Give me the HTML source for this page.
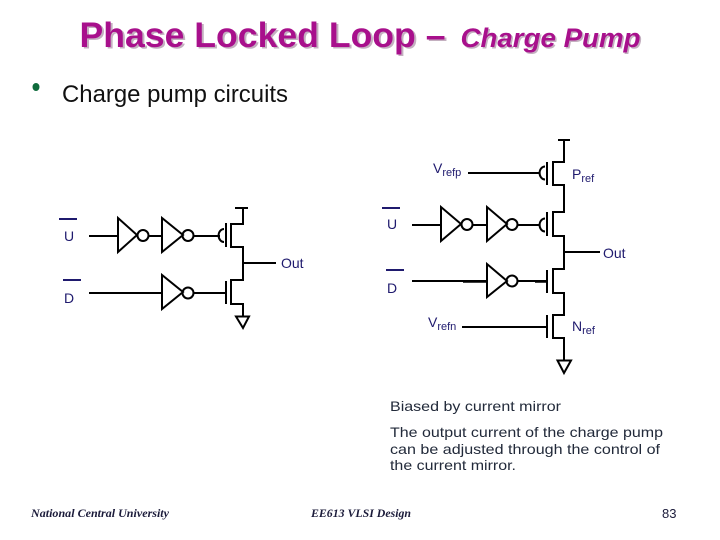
<!DOCTYPE html>
<html><head><meta charset="utf-8"><style>
html,body{margin:0;padding:0;background:#fff}
svg{display:block}
text{font-family:"Liberation Sans",sans-serif}
.c{fill:none;stroke:#000;stroke-width:2}
.l{fill:#1f1a6e;font-size:14px}
.s{font-size:11px}
.b{fill:#222a3a;font-size:14px}
</style></head><body>
<svg width="720" height="540" viewBox="0 0 720 540" xmlns="http://www.w3.org/2000/svg">
<rect width="720" height="540" fill="#fff"/>
<g font-weight="bold">
<text x="81.500" y="48.500" font-size="35" fill="#c4b0c0" textLength="366" lengthAdjust="spacingAndGlyphs">Phase Locked Loop –</text>
<text x="462" y="48.500" font-size="27" font-style="italic" fill="#c4b0c0" textLength="180" lengthAdjust="spacingAndGlyphs">Charge Pump</text>
<text x="79.500" y="47" font-size="35" fill="#a8108c" textLength="366" lengthAdjust="spacingAndGlyphs">Phase Locked Loop –</text>
<text x="460.500" y="47" font-size="27" font-style="italic" fill="#a8108c" textLength="180" lengthAdjust="spacingAndGlyphs">Charge Pump</text>
</g>
<ellipse cx="36" cy="87" rx="3.500" ry="4" fill="#0f6b3c"/>
<text x="62" y="102" font-size="24" fill="#111" textLength="226" lengthAdjust="spacingAndGlyphs">Charge pump circuits</text>

<!-- left circuit -->
<g class="c">
<path d="M89 236H118M118 218V252L137 235Z"/><circle cx="143" cy="235.500" r="5.500"/>
<path d="M149 236H162M162 218V252L183 235Z"/><circle cx="188" cy="235.500" r="5.500"/>
<path d="M194 236H220"/><path d="M224 229A5 6 0 0 0 224 242"/>
<path d="M226 223V247M235 208H248M243 208V224H231V247H243V280H231V304H243V316M243 263H276"/>
<path d="M89 293H162M162 275V309L183 292Z"/><circle cx="188" cy="293" r="5.500"/>
<path d="M194 293H226M226 281V304"/>
<path d="M236 316.500H249L243 328Z"/>
</g>
<path d="M59 219H77M63 280H81" stroke="#1f1a6e" stroke-width="2"/>
<text class="l" x="64" y="241">U</text>
<text class="l" x="64" y="303">D</text>
<text class="l" x="281" y="268">Out</text>

<!-- right circuit -->
<g class="c">
<path d="M558 140H570M564 140V162H553V185H564V212H553V236H564V269H553V293H564V315H553V338H564V360"/>
<path d="M547 162V185M547 212V236M547 270V293M547 315V338"/>
<path d="M468 173H540"/><path d="M545 166.500A5 6 0 0 0 545 179.500"/>
<path d="M412 225H441M441 207V241L461 224Z"/><circle cx="467" cy="224.500" r="5.500"/>
<path d="M473 225H487M487 207V241L507 224Z"/><circle cx="512" cy="224.500" r="5.500"/>
<path d="M518 225H540"/><path d="M545 218.500A5 6 0 0 0 545 231.500"/>
<path d="M564 252H600"/>
<path d="M412 281H487M487 264V297L507 281Z"/><circle cx="512" cy="281" r="5.500"/>
<path d="M518 281H547"/>
<path d="M462 327H547"/>
<path d="M557.500 360.500H571L564 373Z"/>
</g>
<path d="M463 282H487M535 282H547" stroke="#000" stroke-width="1.500"/>
<path d="M382 208H400M386 270H404" stroke="#1f1a6e" stroke-width="2"/>
<text class="l" x="387" y="229">U</text>
<text class="l" x="387" y="293">D</text>
<text class="l" x="603" y="258">Out</text>
<text class="l" x="433" y="173">V<tspan class="s" dy="3">refp</tspan></text>
<text class="l" x="572" y="179">P<tspan class="s" dy="3">ref</tspan></text>
<text class="l" x="428" y="327">V<tspan class="s" dy="3">refn</tspan></text>
<text class="l" x="572" y="331">N<tspan class="s" dy="3">ref</tspan></text>

<text class="b" x="390" y="411" textLength="171" lengthAdjust="spacingAndGlyphs">Biased by current mirror</text>
<text class="b" x="390" y="437" textLength="273" lengthAdjust="spacingAndGlyphs">The output current of the charge pump</text>
<text class="b" x="390" y="454" textLength="270" lengthAdjust="spacingAndGlyphs">can be adjusted through the control of</text>
<text class="b" x="390" y="470" textLength="126" lengthAdjust="spacingAndGlyphs">the current mirror.</text>
<text x="31" y="517" font-size="12" font-style="italic" font-weight="bold" fill="#1b1b3a" style="font-family:'Liberation Serif',serif" textLength="138" lengthAdjust="spacingAndGlyphs">National Central University</text>
<text x="311" y="517" font-size="12" font-style="italic" font-weight="bold" fill="#1b1b3a" style="font-family:'Liberation Serif',serif" textLength="100" lengthAdjust="spacingAndGlyphs">EE613 VLSI Design</text>
<text x="662" y="518" font-size="13" fill="#1b1b3a">83</text>
</svg>
</body></html>
